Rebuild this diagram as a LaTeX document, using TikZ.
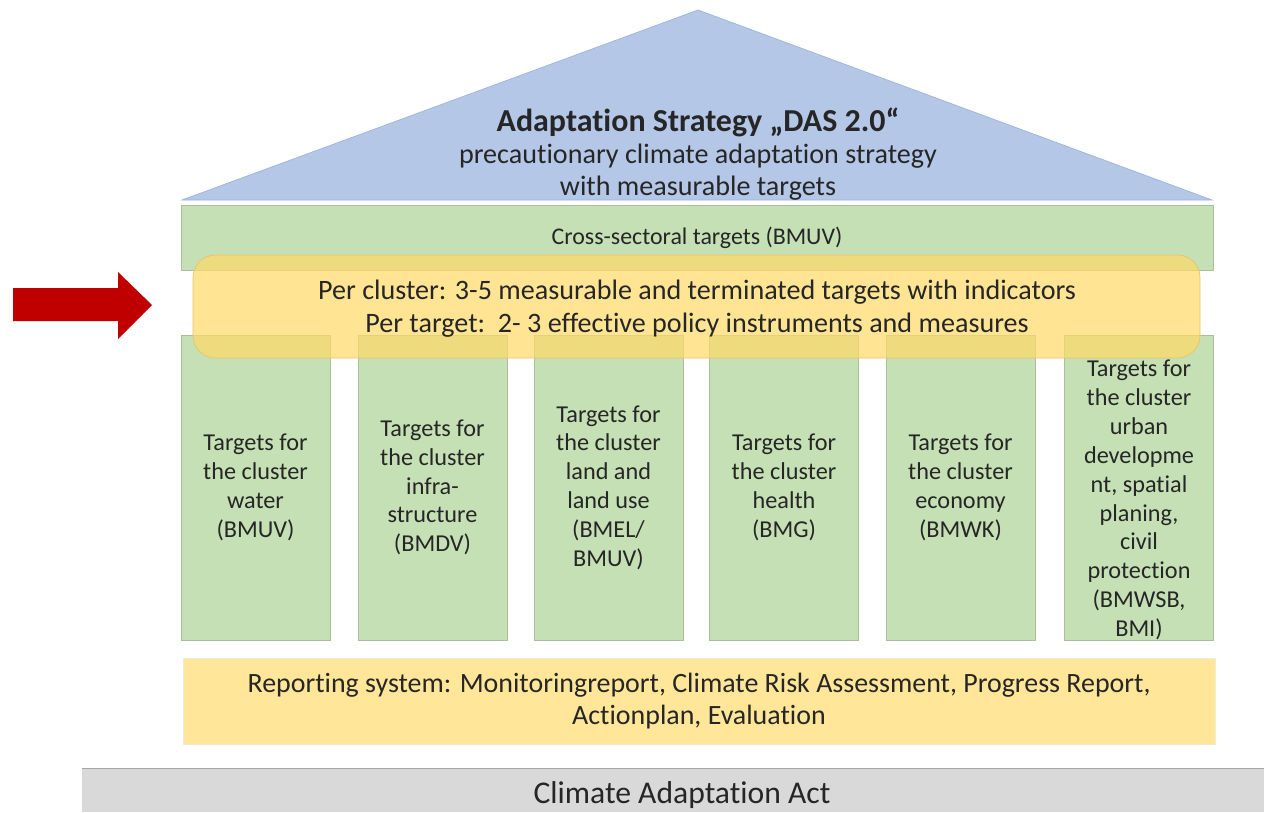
\documentclass[tikz,border=0pt]{standalone}
\usepackage{fontspec}
\setmainfont{Carlito}[RawFeature={-liga;-clig;-calt}]
\usetikzlibrary{positioning}
\definecolor{roofblue}{HTML}{B4C7E7}
\definecolor{roofline}{HTML}{9DB4DC}
\definecolor{pillargreen}{HTML}{C5E0B4}
\definecolor{pillarline}{HTML}{A9BFA0}
\definecolor{bandyellow}{HTML}{FFD966}
\definecolor{bandline}{HTML}{E8C46A}
\definecolor{reportyellow}{HTML}{FFE699}
\definecolor{actgray}{HTML}{D9D9D9}
\definecolor{arrowred}{HTML}{C00000}
\definecolor{inkgray}{HTML}{262626}

\begin{document}
\begin{tikzpicture}[x=0.02cm, y=-0.02cm,
txt/.style={text=inkgray, align=center, inner sep=0pt},
pillar/.style={rectangle, draw=pillarline, fill=pillargreen, txt,
font=\fontsize{13.8}{16.4}\selectfont, minimum width=2.98cm, minimum height=6.1cm},
band/.style={rectangle, draw=pillarline, fill=pillargreen, txt,
font=\fontsize{13.6}{16}\selectfont, minimum width=20.64cm, minimum height=1.3cm},
report/.style={rectangle, draw=reportyellow!80!black!30!white, fill=reportyellow, txt,
font=\fontsize{15.9}{18.2}\selectfont, minimum width=20.64cm, minimum height=1.72cm}
]
\useasboundingbox (0,0) rectangle (1264,812);

% roof
\filldraw [fill=roofblue, draw=roofline] (182,200) -- (698,10) -- (1212,200) -- cycle;
\node [txt, font=\fontsize{18.2}{20}\selectfont\bfseries] (title) at (698,122) {Adaptation Strategy „DAS 2.0“};
\node [txt, font=\fontsize{16}{18.2}\selectfont, anchor=north] (sub) at (698,144)
{precautionary climate adaptation strategy\\ with measurable targets};

% cross-sectoral targets
\node [band] (cross) at (697,237.5) {Cross-sectoral targets (BMUV)};

% pillars
\node [pillar] (water) at (255.5,487.5) {Targets for\\ the cluster\\ water\\ (BMUV)};
\node [pillar] (infra) at (432.5,487.5) {Targets for\\ the cluster\\ infra-\\ structure\\ (BMDV)};
\node [pillar] (land) at (608.5,487.5) {Targets for\\ the cluster\\ land and\\ land use\\ (BMEL/\\ BMUV)};
\node [pillar] (health) at (784,487.5) {Targets for\\ the cluster\\ health\\ (BMG)};
\node [pillar] (economy) at (960.5,487.5) {Targets for\\ the cluster\\ economy\\ (BMWK)};
\node [pillar] (urban) at (1139,487.5) {};
\node [txt, font=\fontsize{13.8}{16.4}\selectfont] (urban-txt) at (1139,500)
{Targets for\\ the cluster\\ urban\\ developme\\ nt, spatial\\ planing,\\ civil\\ protection\\ (BMWSB,\\ BMI)};

% per cluster band (see-through)
\filldraw [fill=bandyellow, fill opacity=0.7, draw=bandline, rounded corners=0.45cm]
(193,255) rectangle (1200,358);
\node [txt, font=\fontsize{16}{18.7}\selectfont] (cluster) at (697,309)
{Per cluster: 3-5 measurable and terminated targets with indicators\\
Per target:\ \ 2- 3 effective policy instruments and measures};

% reporting system
\node [report] (report) at (699,701) {Reporting system: Monitoringreport, Climate Risk Assessment, Progress Report,\\ Actionplan, Evaluation};

% foundation
\fill [actgray] (82,768) rectangle (1264,812);
\draw [black!35] (82,768) -- (1264,768);
\node [txt, font=\fontsize{18}{19}\selectfont] (act) at (682,795) {Climate Adaptation Act};

% red arrow
\fill [arrowred] (13,288) -- (118,288) -- (118,272) -- (152,305) -- (118,339)
-- (118,321) -- (13,321) -- cycle;
\end{tikzpicture}
\end{document}
